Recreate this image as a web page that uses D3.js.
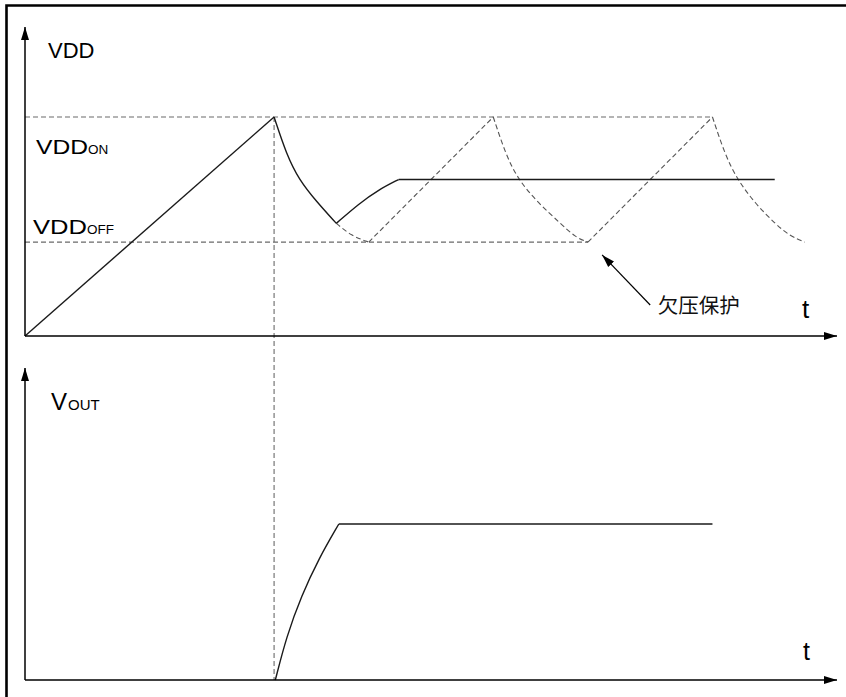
<!DOCTYPE html>
<html><head><meta charset="utf-8">
<script src="https://cdn.jsdelivr.net/npm/d3@7"></script>
<style>body{margin:0;background:#fff}svg{display:block}</style>
</head><body>
<script>
// ---- Data (time in arbitrary units, voltages in arbitrary units) ----
const tMax = 32.6;
const vddMax = 19.75;
const voutMax = 10;
const vddOn = 14, vddOff = 6;
const tPeak = 10;
const onLineEnd = 27.6, offLineEnd = 22.6;

const vddRamp        = [[0, 0], [10, 14]];
const vddDecaySolid  = [[10, 14], [10.5, 11.6], [11, 10], [11.7, 8.6], [12.5, 7.2]];
const ghostDecay1    = [[12.5, 7.2], [13.1, 6.4], [13.8, 6]];
const vddRecovery    = [[12.5, 7.2], [13.4, 8.45], [14.2, 9.35], [15, 10]];
const vddRegulated   = [[15, 10], [30.1, 10]];
const ghostRamp1     = [[13.8, 6], [18.8, 14]];
const ghostDecay2    = [[18.8, 14], [19.3, 11.6], [19.8, 10], [20.6, 8.5], [21.5, 7.2], [22.1, 6.3], [22.6, 6]];
const ghostRamp2     = [[22.6, 6], [27.6, 14]];
const ghostDecay3    = [[27.6, 14], [28.1, 11.6], [28.6, 10], [29.3, 8.5], [30.1, 7.2], [30.7, 6.4], [31.3, 6]];
const voutRise       = [[10.05, 0], [10.5, 1.4], [11.1, 2.7], [11.8, 3.9], [12.6, 5]];
const voutFlat       = [[12.6, 5], [27.6, 5]];

const uvloArrow = [[25.1, 1.98], [23.17, 5.18]];
const uvloText = "欠压保护";
const uvloTextPos = [25.4, 1.47];

// ---- Drawing ----
const W = 846, H = 697;
const svg = d3.select("body").append("svg").attr("width", W).attr("height", H);

const x = d3.scaleLinear().domain([0, tMax]).range([25, 837]);
const yTop = d3.scaleLinear().domain([0, vddMax]).range([336, 27]);
const yBot = d3.scaleLinear().domain([0, voutMax]).range([680, 368]);

const defs = svg.append("defs");
defs.append("marker").attr("id", "arr").attr("markerUnits", "userSpaceOnUse")
  .attr("viewBox", "0 -5 13 10").attr("refX", 13).attr("refY", 0)
  .attr("markerWidth", 13).attr("markerHeight", 10).attr("orient", "auto")
  .append("path").attr("d", "M0,-4L13,0L0,4Z").attr("fill", "#000");

// border (only top and left visible)
svg.append("path").attr("d", "M6.5,705V5.5H852").attr("fill", "none")
  .attr("stroke", "#000").attr("stroke-width", 2.6);

const dashStyle = sel => sel.attr("fill", "none").attr("stroke", "#6a6a6a")
  .attr("stroke-width", 1.1).attr("stroke-dasharray", "5,3");
const solidStyle = sel => sel.attr("fill", "none").attr("stroke", "#1a1a1a")
  .attr("stroke-width", 1.4);

const lineTop = d3.line().x(d => x(d[0])).y(d => yTop(d[1])).curve(d3.curveBasis);
const lineBot = d3.line().x(d => x(d[0])).y(d => yBot(d[1])).curve(d3.curveBasis);

// reference dashed lines
svg.append("line").attr("x1", x(0)).attr("x2", x(onLineEnd))
  .attr("y1", yTop(vddOn)).attr("y2", yTop(vddOn)).call(dashStyle);
svg.append("line").attr("x1", x(0)).attr("x2", x(offLineEnd))
  .attr("y1", yTop(vddOff)).attr("y2", yTop(vddOff)).call(dashStyle);
svg.append("line").attr("x1", x(tPeak)).attr("x2", x(tPeak))
  .attr("y1", yTop(vddOn)).attr("y2", yBot(0)).call(dashStyle);

// ghost (dashed) waveform
[ghostDecay1, ghostRamp1, ghostDecay2, ghostRamp2, ghostDecay3].forEach(d =>
  svg.append("path").attr("d", lineTop(d)).call(dashStyle).attr("stroke", "#555"));

// solid waveforms
[vddRamp, vddDecaySolid, vddRecovery, vddRegulated].forEach(d =>
  svg.append("path").attr("d", lineTop(d)).call(solidStyle));
[voutRise, voutFlat].forEach(d =>
  svg.append("path").attr("d", lineBot(d)).call(solidStyle));

// axes
const axisStyle = sel => sel.attr("stroke", "#000").attr("stroke-width", 1.5).attr("marker-end", "url(#arr)");
svg.append("line").attr("x1", x(0)).attr("y1", yTop(0)).attr("x2", x(0)).attr("y2", yTop(vddMax)).call(axisStyle);
svg.append("line").attr("x1", x(0)).attr("y1", yTop(0)).attr("x2", x(tMax)).attr("y2", yTop(0)).call(axisStyle);
svg.append("line").attr("x1", x(0)).attr("y1", yBot(0)).attr("x2", x(0)).attr("y2", yBot(voutMax)).call(axisStyle);
svg.append("line").attr("x1", x(0)).attr("y1", yBot(0)).attr("x2", x(tMax)).attr("y2", yBot(0)).call(axisStyle);

// annotation arrow
svg.append("line")
  .attr("x1", x(uvloArrow[0][0])).attr("y1", yTop(uvloArrow[0][1]))
  .attr("x2", x(uvloArrow[1][0])).attr("y2", yTop(uvloArrow[1][1]))
  .attr("stroke", "#000").attr("stroke-width", 1.2).attr("marker-end", "url(#arr)");
svg.append("text").attr("x", x(uvloTextPos[0])).attr("y", yTop(uvloTextPos[1]))
  .attr("font-family", "'Noto Sans CJK SC', sans-serif").attr("font-size", 20.5)
  .attr("fill", "#111").text(uvloText);

// labels
const font = "'Liberation Sans', Arial, sans-serif";
const narrow = "'Liberation Sans Narrow', 'Arial Narrow', 'Liberation Sans', sans-serif";
function label(txt, px, py, size, len, fam) {
  const t = svg.append("text").attr("x", px).attr("y", py).attr("font-family", fam || font)
    .attr("font-size", size).attr("fill", "#000").text(txt);
  if (len) t.attr("textLength", len).attr("lengthAdjust", "spacingAndGlyphs");
  return t;
}
label("VDD", 48, 58, 22);
label("VDD", 36, 154, 21, 52);
label("ON", 88, 154, 13.5, null, narrow);
label("VDD", 33, 234, 21, 54);
label("OFF", 87, 234, 13.5, null, narrow);
label("V", 51, 410, 24);
label("OUT", 68, 410, 15, null, narrow);
label("t", 802, 318, 26);
label("t", 803, 660, 25);
</script>
</body></html>
